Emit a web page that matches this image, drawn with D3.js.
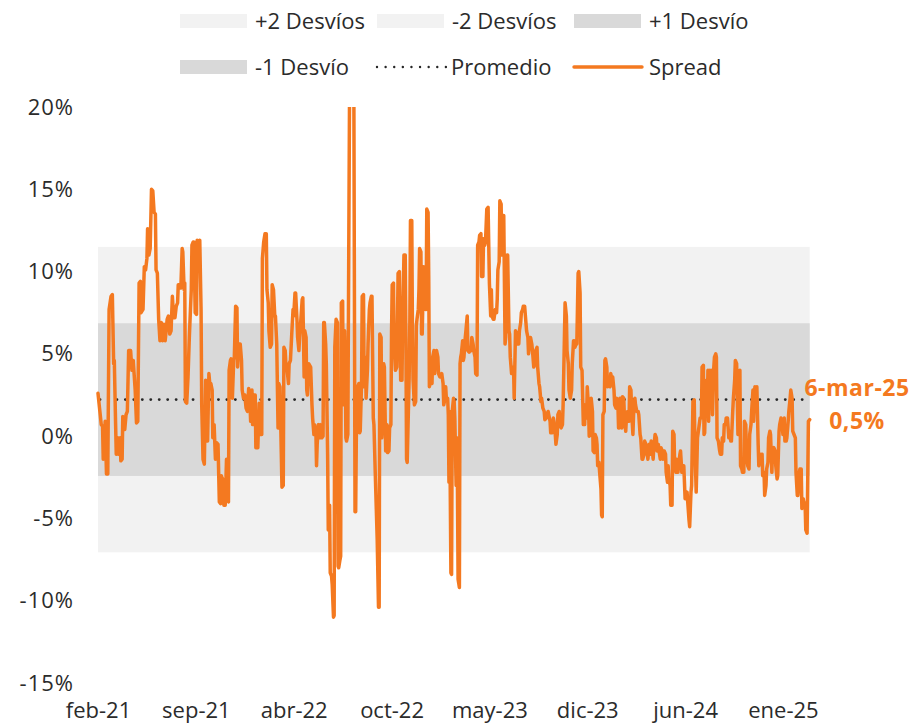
<!DOCTYPE html>
<html>
<head>
<meta charset="utf-8">
<script src="https://cdn.jsdelivr.net/npm/d3@7"></script>
<style>
  body { margin: 0; background: #fff; }
  text { font-family: "Open Sans", "Liberation Sans", Arial, sans-serif; }
</style>
</head>
<body>
<div id="chart"></div>
<script>
// Chart values
const yTicks = [-15, -10, -5, 0, 5, 10, 15, 20];
const xTickDays = [0, 150, 300, 450, 600, 750, 900, 1050];
const xTickLabels = ["feb-21", "sep-21", "abr-22", "oct-22", "may-23", "dic-23", "jun-24", "ene-25"];
const promedio = 2.22;
const desvio = 4.64;
const lastLabel = ["6-mar-25", "0,5%"];

// Spread (%), as [trading day index, value]
const spreadSeries = [
  [0,2.6],[5,0.7],[7,0.6],[8,-1.4],[11,0.9],[13,-2.3],[15,-2.3],[17,7.7],[20,8.5],[22,8.6],[24,4.4],[25,4.6],[27,0.7],[28,-1.1],[30,-0.1],[32,-1.1],[34,-0.1],[35,-1.5],[37,-1.4],[38,1.2],[41,0.4],[43,1.3],[45,1.5],[47,5.2],[50,5.2],[52,4.0],[54,4.6],[57,2.8],[59,0.8],[61,0.9],[63,9.3],[65,9.4],[66,7.5],[69,7.7],[71,10.3],[73,10.1],[75,10.8],[76,12.6],[78,11.0],[80,11.4],[82,15.0],[84,14.9],[86,13.6],[88,13.5],[89,10.1],[91,9.9],[93,7.1],[95,5.8],[97,6.9],[99,5.8],[101,6.8],[103,5.8],[106,7.1],[108,7.3],[110,6.2],[112,6.4],[114,8.5],[116,7.2],[118,7.2],[120,7.9],[122,8.1],[123,9.2],[125,9.2],[127,9.0],[129,11.4],[130,11.2],[132,8.9],[133,9.3],[134,2.1],[136,2.0],[138,3.6],[140,6.0],[143,8.9],[144,11.6],[146,11.8],[147,11.8],[149,7.5],[151,7.4],[152,11.9],[155,11.8],[156,11.9],[158,7.7],[159,1.9],[161,-1.4],[163,-1.7],[165,3.4],[168,-0.3],[170,3.8],[172,2.9],[173,3.2],[175,2.8],[176,-0.1],[178,0.7],[180,-1.4],
  [182,-0.4],[184,-0.5],[186,-4.0],[188,-4.1],[189,-2.4],[191,-2.6],[193,-4.2],[195,-4.2],[197,-1.4],[199,-3.9],[200,-4.0],[201,4.0],[203,4.6],[204,4.7],[206,2.3],[208,4.6],[209,4.8],[211,7.9],[213,7.8],[214,4.2],[216,5.6],[218,5.6],[220,4.6],[221,2.8],[223,2.3],[225,2.5],[227,1.7],[229,1.5],[231,2.9],[233,1.9],[234,0.9],[236,2.8],[237,0.7],[239,2.5],[241,2.5],[242,-0.7],[245,-0.7],[247,2.0],[248,0.1],[251,0.1],[252,10.8],[254,11.8],[256,12.3],[258,12.3],[259,8.9],[261,8.1],[262,6.4],[264,5.4],[266,5.6],[267,9.2],[269,8.9],[271,7.3],[272,7.3],[274,5.6],[276,0.5],[277,3.2],[279,3.0],[281,-1.1],[282,-3.1],[284,-3.0],[285,5.4],[287,5.2],[288,4.4],[290,4.0],[292,3.2],[293,4.4],[295,4.6],[297,6.2],[299,7.7],[300,7.3],[302,8.7],[303,8.7],[305,7.1],[306,6.0],[308,5.2],[309,6.0],[311,7.1],[313,8.3],[314,8.4],[316,3.6],[317,6.4],[319,6.0],[320,2.8],[321,2.5],[323,4.4],[326,4.2],[328,1.9],[329,1.1],[331,0.1],[332,0.7],[334,0.3],[335,-1.8],[336,-0.5],[338,0.7],[340,-0.1],[341,0.7],[343,-0.1],[345,0.0],[346,6.9],[347,6.9],[349,5.6],[350,4.4],[352,-1.1],[353,-5.7],[355,-4.2],[356,-8.3],[358,-8.5],[359,-9.0],[361,-11.0],[362,-10.9],[363,5.4],
  [365,7.1],[367,6.9],[368,-7.9],[369,-8.0],[371,-7.5],[372,-7.3],[373,8.1],[375,8.2],[376,1.9],[378,6.4],[379,4.6],[380,-0.1],[381,-0.3],[383,0.1],[386,24],[389,22],[392,24],[394,-4.6],[395,-4.6],[396,-0.1],[398,3.0],[400,3.2],[401,0.2],[402,0.3],[404,3.2],[405,8.5],[407,8.6],[408,3.0],[410,4.8],[411,2.3],[413,4.0],[414,5.6],[416,7.7],[417,8.1],[419,8.5],[420,8.5],[422,1.1],[423,0.7],[425,-2.2],[428,-6.3],[430,-10.4],[431,-10.4],[432,6.2],[434,6.0],[435,-0.1],[436,0.7],[438,4.4],[439,4.2],[441,-0.9],[443,0.7],[444,-1.0],[446,-0.9],[447,0.5],[449,0.7],[450,6.4],[451,9.2],[453,9.3],[454,5.6],[456,4.0],[458,4.2],[459,6.7],[460,9.9],[462,10.0],[463,6.0],[464,3.4],[466,3.4],[467,6.9],[469,11.0],[471,11.0],[472,6.0],[473,-1.4],[474,-1.6],[476,1.9],[477,3.6],[478,6.9],[479,13.1],[481,13.1],[482,6.4],[483,3.4],[485,1.9],[487,2.1],[488,6.7],[489,7.1],[491,7.7],[492,8.9],[493,11.4],[495,11.2],[496,6.2],[497,6.2],[499,10.3],[501,10.1],[502,7.7],[503,7.7],[504,13.8],[506,13.6],[507,9.7],[508,3.0],[510,3.4],[512,3.2],[513,4.8],[515,5.2],[516,3.8],[518,4.8],[519,5.2],[521,4.8],[522,3.8],[524,3.6],[526,3.6],[527,3.8],[529,3.2],[530,1.9],[531,2.1],[533,3.0],[534,2.3],[536,2.3],[537,1.3],[538,-2.8],[539,1.5],[541,-8.3],[542,-8.4],[543,1.5],[545,2.3],[546,2.1],
  [547,1.1],[549,-3.0],[550,-0.1],[551,-3.0],[552,-8.7],[554,-9.2],[555,4.4],[556,4.8],[557,5.0],[559,5.8],[560,4.6],[561,4.8],[563,6.0],[564,6.4],[566,7.3],[567,5.2],[569,5.1],[570,5.4],[572,5.2],[573,6.0],[575,5.6],[576,5.2],[578,4.8],[579,3.8],[581,3.7],[582,11.6],[584,11.8],[585,12.2],[587,12.3],[588,9.7],[590,9.7],[591,12.0],[593,11.6],[594,11.8],[596,13.8],[598,13.9],[599,11.6],[600,9.3],[602,7.3],[603,8.9],[604,7.3],[606,7.1],[607,7.1],[609,7.7],[611,7.5],[612,8.3],[613,10.1],[615,10.6],[616,14.3],[618,14.1],[619,11.0],[621,13.4],[622,13.4],[624,5.6],[625,6.0],[627,11.0],[628,11.0],[630,6.4],[631,6.2],[632,4.8],[634,3.8],[635,3.8],[637,4.2],[638,2.3],[640,6.4],[642,6.2],[643,5.6],[645,5.6],[646,6.4],[648,6.9],[649,7.5],[651,7.7],[652,7.9],[654,7.9],[656,6.9],[657,6.4],[659,6.0],[660,5.0],[662,5.8],[663,6.0],[665,5.6],[666,5.2],[668,4.2],[670,4.4],[671,5.2],[673,5.4],[674,4.2],[676,3.2],[677,3.0],[679,2.1],[680,2.3],[682,1.7],[684,1.5],[685,1.0],[687,1.1],[688,1.3],[690,1.5],[691,1.3],[693,0.9],[694,0.2],[696,0.2],[698,1.1],[699,0.9],[701,0.1],[702,-0.5],[704,0.1],[705,1.3],[707,1.5],[708,0.7],[710,0.5],[712,0.7],[713,1.9],[715,6.0],[716,8.1],[718,7.3],[719,5.2],[721,4.4],[722,2.8],[724,2.3],[726,2.8],[727,4.4],[729,5.8],[730,5.8],
  [731,5.4],[733,5.6],[734,5.6],[736,9.9],[737,10.0],[739,8.7],[740,4.2],[742,4.0],[743,2.3],[744,0.7],[746,0.7],[747,1.9],[749,1.1],[750,3.0],[752,1.7],[753,0.0],[755,0.1],[756,2.3],[758,1.5],[759,-0.9],[761,-1.0],[762,0.1],[764,-0.1],[765,-0.5],[766,-1.8],[768,-1.6],[769,-2.2],[771,-3.2],[772,-4.8],[773,-4.9],[774,1.3],[776,1.5],[777,4.6],[778,4.7],[780,4.2],[781,3.0],[783,3.2],[785,3.0],[786,3.8],[788,3.4],[789,3.6],[791,2.8],[792,1.9],[794,1.7],[795,2.3],[797,1.9],[798,0.5],[799,0.5],[800,2.3],[802,1.9],[803,0.5],[804,2.4],[806,2.3],[807,1.1],[809,0.3],[810,1.1],[812,1.5],[814,0.9],[815,3.0],[817,2.8],[818,1.5],[820,0.1],[821,1.3],[823,2.3],[824,1.9],[826,1.5],[828,1.5],[829,1.3],[831,0.1],[832,-0.1],[834,-1.4],[835,-1.4],[837,-1.1],[838,-0.3],[840,-0.5],[842,-1.1],[843,-1.4],[845,-0.5],[846,-1.1],[848,-0.3],[849,-0.5],[851,-1.4],[852,-0.7],[854,0.1],[856,-0.1],[857,-0.9],[859,-0.5],[860,-0.9],[862,-1.4],[863,-0.7],[865,-0.9],[866,-1.4],[868,-0.9],[870,-1.1],[871,-2.2],[873,-2.8],[874,-1.8],[875,-2.6],[877,-3.0],[878,-4.2],[880,-4.2],[881,0.3],[883,0.1],[884,-1.8],[886,-2.2],[887,-1.4],[889,-2.2],[890,-1.8],[892,-1.1],[893,-0.9],[895,-2.2],[897,-1.8],[898,-1.8],[900,-3.8],[901,-3.8],[903,-3.4],[904,-4.0],[906,-5.1],[907,-5.5],[909,-3.4],[910,-3.0],[912,2.1],[914,2.2],[915,-0.5],[917,-3.4],
  [919,-0.1],[921,0.5],[923,1.1],[925,1.1],[926,4.2],[928,4.3],[929,0.1],[930,0.2],[931,1.9],[933,3.4],[934,1.9],[935,4.0],[936,0.9],[938,4.0],[939,2.8],[941,4.0],[942,1.3],[944,4.2],[945,4.8],[947,5.0],[948,4.8],[949,-0.1],[951,-0.3],[953,-0.9],[954,-1.1],[956,-1.1],[957,-0.1],[959,-0.3],[960,0.7],[962,0.7],[963,1.1],[965,1.1],[967,-0.1],[968,0.3],[970,-0.3],[971,-0.3],[973,1.5],[974,2.3],[976,3.4],[977,4.6],[979,4.4],[981,0.1],[982,1.1],[984,4.0],[985,-1.8],[987,-2.0],[988,-2.2],[990,-2.2],[991,0.9],[993,0.7],[994,-1.1],[996,-1.8],[998,-2.0],[999,0.1],[1001,0.7],[1002,1.5],[1004,2.8],[1005,0.9],[1007,3.0],[1008,2.3],[1010,3.0],[1012,-0.5],[1013,-1.8],[1015,-1.1],[1016,-1.4],[1018,-1.1],[1019,-2.4],[1021,-2.2],[1022,-3.6],[1024,-3.0],[1025,-2.0],[1027,-1.6],[1028,-0.1],[1030,0.3],[1031,0.1],[1033,-2.2],[1034,-0.9],[1036,-0.7],[1038,-0.9],[1039,-1.8],[1041,-2.6],[1042,-2.4],[1044,0.3],[1045,0.7],[1047,1.1],[1048,0.9],[1050,0.1],[1052,1.1],[1053,-0.3],[1055,-0.3],[1056,-0.1],[1058,0.9],[1059,1.5],[1061,2.3],[1062,2.8],[1064,2.3],[1065,0.3],[1067,0.1],[1069,-0.1],[1070,-2.2],[1072,-3.6],[1073,-3.6],[1075,-2.2],[1076,-2.0],[1078,-2.0],[1079,-4.4],[1081,-3.8],[1082,-4.0],[1084,-4.2],[1085,-5.7],[1087,-5.9],[1088,-2.6],[1089,0.9],[1091,1.0]
];

// Layout
const width = 913, height = 724;
const orange = "#F47920";
const lightBand = "#F2F2F2";
const darkBand = "#D9D9D9";
const textColor = "#2b2b2b";
const fontSize = 22;
const fontFamily = '"Open Sans", "Liberation Sans", Arial, sans-serif';

const svg = d3
  .select("#chart")
  .append("svg")
  .attr("width", width)
  .attr("height", height);

const lastDay = spreadSeries[spreadSeries.length - 1][0];
const x = d3.scaleLinear().domain([0, lastDay]).range([98, 809.7]);
const y = d3.scaleLinear().domain([-15, 20]).range([683, 107]);

// Standard deviation bands
const x0 = x(0), x1 = x(lastDay);
svg
  .append("rect")
  .attr("x", x0)
  .attr("width", x1 - x0)
  .attr("y", y(promedio + 2 * desvio))
  .attr("height", y(promedio - 2 * desvio) - y(promedio + 2 * desvio))
  .attr("fill", lightBand);
svg
  .append("rect")
  .attr("x", x0)
  .attr("width", x1 - x0)
  .attr("y", y(promedio + desvio))
  .attr("height", y(promedio - desvio) - y(promedio + desvio))
  .attr("fill", darkBand);

// Mean line (dotted)
svg
  .append("line")
  .attr("x1", x0 + 2)
  .attr("x2", x1 - 4)
  .attr("y1", y(promedio))
  .attr("y2", y(promedio))
  .attr("stroke", "#262626")
  .attr("stroke-width", 2.9)
  .attr("stroke-linecap", "round")
  .attr("stroke-dasharray", "0.01 8.45");

// Clip at the plot area
svg
  .append("clipPath")
  .attr("id", "plot-clip")
  .append("rect")
  .attr("x", 80)
  .attr("y", y(20))
  .attr("width", 750)
  .attr("height", y(-15) - y(20));

const line = d3
  .line()
  .x((d) => x(d[0]))
  .y((d) => y(d[1]));

svg
  .append("path")
  .datum(spreadSeries)
  .attr("clip-path", "url(#plot-clip)")
  .attr("fill", "none")
  .attr("stroke", orange)
  .attr("stroke-width", 3.5)
  .attr("stroke-linejoin", "round")
  .attr("stroke-linecap", "round")
  .attr("d", line);

// Y axis
const yAxis = svg
  .append("g")
  .attr("transform", "translate(80,0)")
  .call(
    d3.axisLeft(y)
      .tickValues(yTicks)
      .tickFormat((d) => d + "%")
      .tickSize(0)
      .tickPadding(6)
  );
yAxis.select(".domain").remove();
yAxis
  .selectAll("text")
  .attr("fill", textColor)
  .style("font-size", fontSize + "px")
  .style("letter-spacing", "1px")
  .style("font-family", fontFamily);

// X axis
const xAxis = svg
  .append("g")
  .attr("transform", "translate(0,700)")
  .call(
    d3.axisBottom(x)
      .tickValues(xTickDays)
      .tickFormat((d, i) => xTickLabels[i])
      .tickSize(0)
      .tickPadding(2)
  );
xAxis.select(".domain").remove();
xAxis
  .selectAll("text")
  .attr("fill", textColor)
  .style("font-size", fontSize + "px")
  .style("font-family", fontFamily);

// Last value annotation
svg
  .selectAll("text.last")
  .data(lastLabel)
  .enter()
  .append("text")
  .attr("class", "last")
  .attr("x", 857)
  .attr("y", (d, i) => 388 + i * 33)
  .attr("dy", "0.36em")
  .attr("text-anchor", "middle")
  .attr("fill", orange)
  .style("font-size", "23px")
  .style("font-weight", "bold")
  .style("letter-spacing", "0.5px")
  .text((d) => d);

// Legend
const legendItems = [
  { label: "+2 Desvíos", type: "box", color: lightBand, x: 180, y: 21 },
  { label: "-2 Desvíos", type: "box", color: lightBand, x: 377, y: 21 },
  { label: "+1 Desvío", type: "box", color: darkBand, x: 574, y: 21 },
  { label: "-1 Desvío", type: "box", color: darkBand, x: 180, y: 67 },
  { label: "Promedio", type: "dots", color: "#262626", x: 376, y: 67 },
  { label: "Spread", type: "line", color: orange, x: 574, y: 67 },
];

const legend = svg.append("g");
legendItems.forEach((d) => {
  const g = legend.append("g").attr("transform", `translate(${d.x},${d.y})`);
  if (d.type === "box") {
    g.append("rect")
      .attr("x", 0)
      .attr("y", -7)
      .attr("width", 67)
      .attr("height", 14)
      .attr("fill", d.color);
  } else if (d.type === "dots") {
    g.append("line")
      .attr("x1", 1)
      .attr("x2", 70)
      .attr("stroke", d.color)
      .attr("stroke-width", 2.4)
      .attr("stroke-linecap", "round")
      .attr("stroke-dasharray", "0.01 8.6");
  } else {
    g.append("line")
      .attr("x1", 0)
      .attr("x2", 68)
      .attr("stroke", d.color)
      .attr("stroke-width", 3.4)
      .attr("stroke-linecap", "round");
  }
  g.append("text")
    .attr("x", 75)
    .attr("dy", "0.35em")
    .attr("fill", textColor)
    .style("font-size", fontSize + "px")
    .text(d.label);
});
</script>
</body>
</html>
